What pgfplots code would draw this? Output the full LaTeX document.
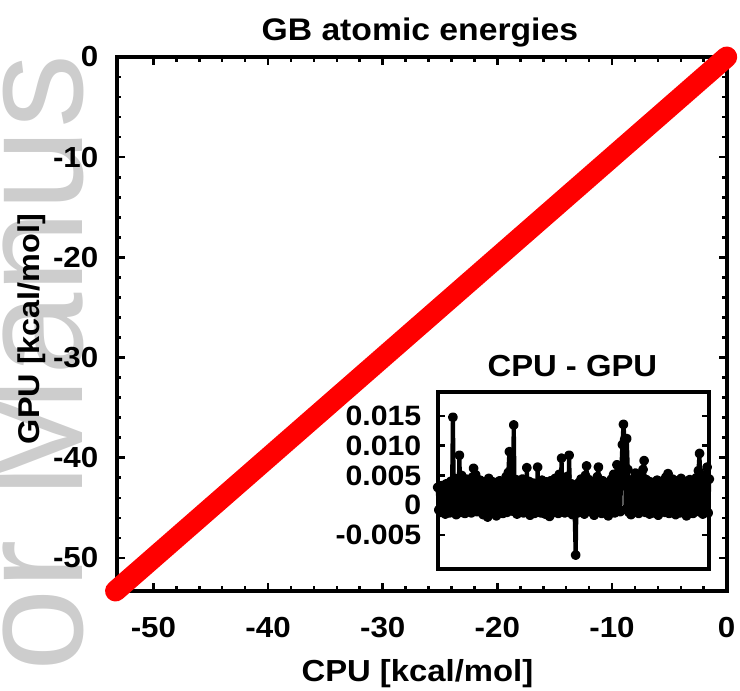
\documentclass[border=0pt]{standalone}
\usepackage{fontspec}
\setmainfont{Liberation Sans}[FakeStretch=1.08]
\newfontfamily\wmfont{Liberation Sans}
\usepackage{pgfplots}
\pgfplotsset{compat=1.18}
\definecolor{wm}{RGB}{205,205,205}
\begin{document}
\begin{tikzpicture}
\useasboundingbox (0,0) rectangle (370pt,-345.5pt);
% faint watermark of the reference page
\node[rotate=90, anchor=base west, inner sep=0pt, text=wm, font=\wmfont\fontsize{74}{80}\selectfont] at (41.5pt,-336pt) {or Manus};
\pgfplotsset{every axis title shift=0pt}
\begin{axis}[
  at={(58.35pt,-295.5pt)}, anchor=south west,
  scale only axis, width=305pt, height=267pt,
  xmin=-53.2, xmax=0, ymin=-53.3, ymax=0,
  xtick={-50,-40,-30,-20,-10,0}, xticklabels={-50,-40,-30,-20,-10,0},
  ytick={-50,-40,-30,-20,-10,0}, yticklabels={-50,-40,-30,-20,-10,0},
  minor tick num=4,
  tick align=inside,
  major tick length=4pt, minor tick length=2.3pt,
  axis line style={line width=2pt},
  every tick/.style={line width=1.3pt, black},
  xticklabel style={font=\bfseries\fontsize{14.5}{17}\selectfont, inner sep=0pt, anchor=north, yshift=-12.8pt},
  yticklabel style={font=\bfseries\fontsize{14.5}{17}\selectfont, inner sep=0pt, anchor=east, xshift=-9pt},
  title={GB atomic energies},
  title style={at={(axis description cs:0.497,1.031)}, anchor=base, font=\bfseries\fontsize{15.6}{18}\selectfont},
  xlabel={CPU [kcal/mol]},
  xlabel style={at={(axis description cs:0.493,-0.17)}, anchor=base, font=\bfseries\fontsize{15.2}{18}\selectfont},
  ylabel={GPU [kcal/mol]},
  ylabel style={at={(axis description cs:-0.139,0.491)}, anchor=center, font=\bfseries\fontsize{15}{18}\selectfont},
  clip=false,
]
\addplot[red, line width=10.5pt, line cap=round, line join=round] coordinates {
(-53.3,-53.3) (-51.0,-51.0) (-48.2,-48.2) (-45.6,-45.6) (-42.9,-42.9) (-40.1,-40.1)
(-37.4,-37.4) (-34.8,-34.8) (-32.0,-32.0) (-29.3,-29.3) (-26.7,-26.7) (-24.0,-24.0)
(-21.2,-21.2) (-18.6,-18.6) (-15.9,-15.9) (-13.1,-13.1) (-10.4,-10.4) (-7.8,-7.8)
(-5.1,-5.1) (-2.5,-2.5) (0,0)
};
\end{axis}
\begin{axis}[
  at={(218.85pt,-284.65pt)}, anchor=south west,
  scale only axis, width=135.8pt, height=88.8pt,
  xmin=0, xmax=250, ymin=-0.0108, ymax=0.0191,
  xtick=\empty,
  ytick={-0.005,0,0.005,0.01,0.015},
  yticklabels={-0.005,0,0.005,0.010,0.015},
  scaled y ticks=false,
  tick align=inside,
  major tick length=3.5pt,
  axis line style={line width=2pt},
  every tick/.style={line width=1.3pt, black},
  yticklabel style={font=\bfseries\fontsize{14}{17}\selectfont, inner sep=0pt, anchor=east, xshift=-8pt},
  axis background/.style={fill=white},
  title={CPU - GPU},
  title style={at={(axis description cs:0.496,1)}, anchor=base, yshift=7.85pt, font=\bfseries\fontsize{15.2}{18}\selectfont},
  clip=false,
]
\addplot[black, line width=2.1pt, line join=round, mark=*, mark size=1.4pt] coordinates {
(0,0.0030)(1,-0.0008)(2,0.0026)(3,-0.0012)(4,0.0033)(5,-0.0005)(6,0.0029)(7,-0.0015)(8,0.0036)(9,-0.0010)
(10,0.0024)(11,-0.0013)(12,0.0040)(13,-0.0007)(14,0.0148)(15,-0.0011)(16,0.0045)(17,-0.0016)(18,0.0034)(19,-0.0009)
(20,0.0084)(21,-0.0012)(22,0.0050)(23,-0.0006)(24,0.0031)(25,-0.0014)(26,0.0044)(27,-0.0010)(28,0.0028)(29,-0.0008)
(30,0.0038)(31,-0.0013)(32,0.0047)(33,0.0062)(34,-0.0009)(35,0.0051)(36,-0.0011)(37,0.0035)(38,-0.0007)(39,0.0042)
(40,-0.0012)(41,0.0030)(42,-0.0016)(43,0.0037)(44,-0.0009)(45,0.0029)(46,-0.0020)(47,0.0045)(48,-0.0011)(49,0.0033)
(50,-0.0008)(51,0.0039)(52,-0.0013)(53,0.0027)(54,-0.0018)(55,0.0034)(56,-0.0010)(57,0.0041)(58,-0.0006)(59,0.0032)
(60,-0.0014)(61,0.0036)(62,-0.0009)(63,0.0048)(64,-0.0012)(65,0.0055)(66,0.0090)(67,-0.0008)(68,0.0046)(69,-0.0010)
(70,0.0135)(71,-0.0007)(72,0.0043)(73,-0.0015)(74,0.0031)(75,-0.0011)(76,0.0038)(77,-0.0006)(78,0.0044)(79,-0.0013)
(80,0.0035)(81,-0.0009)(82,0.0063)(83,-0.0012)(84,0.0040)(85,-0.0017)(86,0.0033)(87,-0.0010)(88,0.0037)(89,-0.0014)
(90,0.0029)(91,-0.0008)(92,0.0064)(93,-0.0011)(94,0.0036)(95,-0.0013)(96,0.0042)(97,-0.0007)(98,0.0030)(99,-0.0015)
(100,0.0039)(101,-0.0010)(102,0.0034)(103,-0.0019)(104,0.0041)(105,-0.0008)(106,0.0028)(107,-0.0012)(108,0.0045)(109,-0.0009)
(110,0.0037)(111,-0.0014)(112,0.0052)(113,-0.0006)(114,0.0079)(115,-0.0011)(116,0.0040)(117,-0.0013)(118,0.0033)(119,0.0048)
(120,-0.0010)(121,0.0084)(122,-0.0012)(123,0.0036)(124,-0.0016)(125,0.0031)(126,-0.0009)(127,-0.0084)(128,0.0034)(129,-0.0013)
(130,0.0038)(131,-0.0007)(132,0.0044)(133,-0.0011)(134,0.0032)(135,-0.0015)(136,0.0050)(137,0.0066)(138,-0.0010)(139,0.0043)
(140,-0.0008)(141,0.0035)(142,-0.0012)(143,0.0030)(144,-0.0017)(145,0.0039)(146,-0.0009)(147,0.0048)(148,0.0064)(149,-0.0011)
(150,0.0036)(151,-0.0014)(152,0.0041)(153,-0.0007)(154,0.0029)(155,-0.0012)(156,0.0037)(157,-0.0018)(158,0.0033)(159,-0.0010)
(160,0.0044)(161,-0.0008)(162,0.0052)(163,-0.0013)(164,0.0045)(165,0.0068)(166,-0.0009)(167,0.0040)(168,-0.0011)(169,0.0058)
(170,0.0102)(171,0.0136)(172,0.0110)(173,-0.0007)(174,0.0112)(175,0.0060)(176,-0.0012)(177,0.0038)(178,-0.0016)(179,0.0032)
(180,-0.0009)(181,0.0046)(182,0.0054)(183,-0.0011)(184,0.0036)(185,-0.0014)(186,0.0049)(187,-0.0008)(188,0.0041)(189,0.0060)
(190,0.0075)(191,-0.0012)(192,0.0043)(193,-0.0010)(194,0.0035)(195,-0.0015)(196,0.0039)(197,-0.0007)(198,0.0031)(199,-0.0013)
(200,0.0037)(201,-0.0009)(202,0.0042)(203,-0.0017)(204,0.0034)(205,-0.0011)(206,0.0040)(207,-0.0008)(208,0.0036)(209,-0.0012)
(210,0.0047)(211,-0.0010)(212,0.0053)(213,-0.0014)(214,0.0038)(215,-0.0006)(216,0.0044)(217,-0.0011)(218,0.0033)(219,-0.0016)
(220,0.0041)(221,-0.0009)(222,0.0037)(223,-0.0013)(224,0.0045)(225,-0.0008)(226,0.0032)(227,-0.0012)(228,0.0040)(229,-0.0018)
(230,0.0035)(231,-0.0010)(232,0.0043)(233,-0.0007)(234,0.0038)(235,-0.0014)(236,0.0034)(237,-0.0011)(238,0.0046)(239,-0.0009)
(240,0.0058)(241,0.0087)(242,-0.0012)(243,0.0049)(244,-0.0015)(245,0.0036)(246,-0.0010)(247,0.0052)(248,0.0064)(249,-0.0013)
(250,0.0044)
};
\end{axis}
\end{tikzpicture}
\end{document}
